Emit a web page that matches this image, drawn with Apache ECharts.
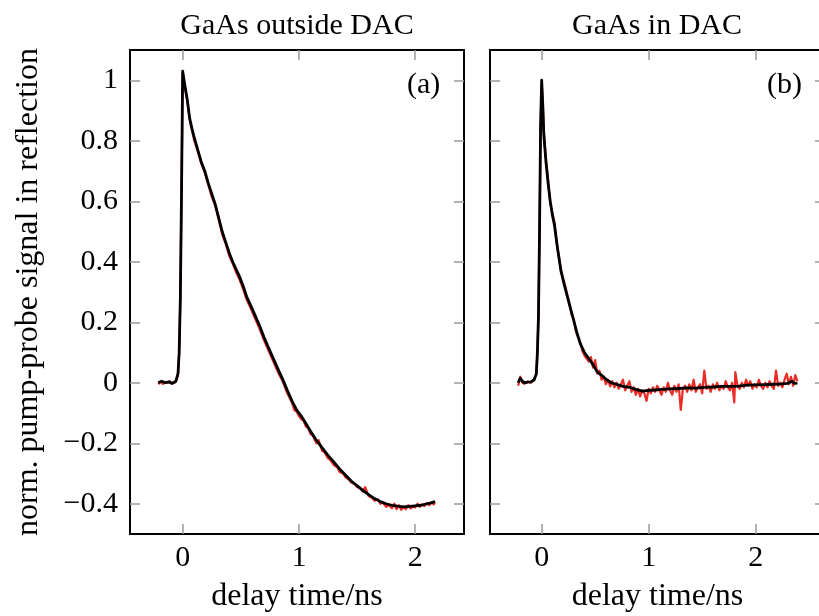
<!DOCTYPE html>
<html>
<head>
<meta charset="utf-8">
<script src="https://cdn.jsdelivr.net/npm/echarts@6/dist/echarts.min.js"></script>
<style>html,body{margin:0;padding:0;background:#fff}#c{width:819px;height:616px}</style>
</head>
<body>
<div id="c"></div>
<script>
// ---- data ----
var titles = ['GaAs outside DAC', 'GaAs in DAC'];
var panelTags = ['(a)', '(b)'];
var xTicks = [0, 1, 2];
var yTicks = [-0.4, -0.2, 0, 0.2, 0.4, 0.6, 0.8, 1];
var xName = 'delay time/ns';
var yName = 'norm. pump-probe signal in reflection';

// panel (a): black (smoothed) curve
var aBlackX = [-0.21,-0.18,-0.15,-0.12,-0.09,-0.06,-0.04,-0.03,-0.02,-0.01,0.00,0.02,0.04,0.06,0.08,0.10,0.13,0.16,0.19,0.22,0.25,0.28,0.31,0.34,0.37,0.40,0.43,0.46,0.49,0.52,0.55,0.58,0.62,0.66,0.70,0.74,0.78,0.82,0.86,0.90,0.94,0.98,1.02,1.06,1.10,1.15,1.20,1.25,1.30,1.35,1.40,1.45,1.50,1.55,1.60,1.65,1.70,1.75,1.80,1.85,1.90,1.95,2.00,2.05,2.10,2.15,2.17];
var aBlackY = [0.000,0.005,0.000,0.003,-0.002,0.004,0.03,0.10,0.28,0.62,1.03,0.98,0.935,0.875,0.84,0.81,0.77,0.73,0.70,0.66,0.625,0.59,0.545,0.50,0.465,0.43,0.40,0.375,0.35,0.32,0.285,0.26,0.225,0.19,0.15,0.115,0.08,0.045,0.012,-0.025,-0.06,-0.09,-0.11,-0.135,-0.16,-0.19,-0.215,-0.24,-0.262,-0.285,-0.305,-0.325,-0.34,-0.356,-0.37,-0.383,-0.393,-0.40,-0.405,-0.408,-0.41,-0.409,-0.407,-0.405,-0.40,-0.396,-0.392];
// panel (a): red (raw) curve
var aRedX = [-0.21,-0.19,-0.17,-0.15,-0.13,-0.11,-0.09,-0.07,-0.05,-0.04,-0.03,-0.02,-0.01,0.00,0.02,0.04,0.06,0.08,0.10,0.13,0.16,0.19,0.22,0.25,0.28,0.31,0.34,0.37,0.40,0.43,0.46,0.49,0.52,0.55,0.58,0.62,0.66,0.70,0.74,0.78,0.82,0.86,0.90,0.94,0.96,0.98,1.00,1.02,1.04,1.06,1.08,1.10,1.12,1.15,1.17,1.20,1.22,1.25,1.27,1.30,1.33,1.35,1.38,1.40,1.43,1.45,1.48,1.50,1.53,1.55,1.57,1.60,1.63,1.65,1.68,1.70,1.72,1.75,1.77,1.80,1.82,1.84,1.86,1.88,1.90,1.92,1.94,1.96,1.98,2.00,2.02,2.04,2.06,2.08,2.10,2.12,2.14,2.16,2.17];
var aRedY = [-0.005,0.004,-0.004,0.003,0.0,0.005,-0.003,0.0,0.01,0.03,0.10,0.28,0.62,1.02,0.975,0.93,0.87,0.835,0.80,0.765,0.725,0.695,0.655,0.615,0.585,0.54,0.49,0.46,0.42,0.395,0.365,0.34,0.31,0.275,0.25,0.215,0.18,0.14,0.105,0.07,0.035,0.005,-0.035,-0.065,-0.09,-0.095,-0.11,-0.12,-0.125,-0.145,-0.15,-0.17,-0.175,-0.2,-0.19,-0.225,-0.23,-0.25,-0.255,-0.272,-0.28,-0.295,-0.3,-0.312,-0.32,-0.33,-0.335,-0.345,-0.35,-0.36,-0.345,-0.375,-0.38,-0.39,-0.385,-0.4,-0.395,-0.41,-0.405,-0.415,-0.4,-0.418,-0.405,-0.42,-0.41,-0.418,-0.405,-0.415,-0.41,-0.412,-0.4,-0.41,-0.402,-0.408,-0.398,-0.405,-0.395,-0.402,-0.395];

// panel (b): black (smoothed) curve
var bBlackX = [-0.22,-0.20,-0.18,-0.16,-0.13,-0.10,-0.07,-0.05,-0.04,-0.03,-0.02,-0.01,0.00,0.01,0.02,0.04,0.06,0.08,0.10,0.12,0.15,0.18,0.21,0.24,0.27,0.30,0.33,0.36,0.40,0.44,0.48,0.52,0.56,0.60,0.65,0.70,0.76,0.82,0.88,0.94,1.00,1.06,1.12,1.20,1.28,1.36,1.44,1.52,1.60,1.68,1.76,1.84,1.92,2.00,2.08,2.16,2.24,2.30,2.34,2.36,2.39];
var bBlackY = [0.00,0.015,0.005,0.000,0.002,0.003,0.01,0.03,0.10,0.22,0.50,0.85,1.00,0.92,0.82,0.73,0.66,0.60,0.555,0.52,0.44,0.37,0.325,0.285,0.245,0.205,0.165,0.13,0.10,0.08,0.06,0.035,0.025,0.012,0.00,-0.005,-0.012,-0.015,-0.022,-0.028,-0.025,-0.024,-0.022,-0.02,-0.019,-0.017,-0.018,-0.015,-0.014,-0.012,-0.012,-0.011,-0.008,-0.007,-0.006,-0.005,-0.004,-0.002,0.005,-0.002,-0.001];
// panel (b): red (raw) curve
var bRedX = [-0.22,-0.20,-0.18,-0.16,-0.13,-0.10,-0.07,-0.05,-0.04,-0.03,-0.02,-0.01,0.00,0.01,0.02,0.04,0.06,0.08,0.10,0.12,0.14,0.16,0.18,0.20,0.22,0.24,0.26,0.28,0.30,0.32,0.34,0.36,0.38,0.40,0.42,0.44,0.46,0.48,0.50,0.52,0.54,0.56,0.58,0.60,0.62,0.64,0.66,0.68,0.70,0.72,0.74,0.76,0.78,0.80,0.82,0.84,0.86,0.88,0.90,0.92,0.94,0.96,0.98,1.00,1.02,1.04,1.06,1.08,1.10,1.12,1.14,1.16,1.18,1.20,1.22,1.24,1.26,1.28,1.30,1.32,1.34,1.36,1.38,1.40,1.42,1.44,1.46,1.48,1.50,1.52,1.54,1.56,1.58,1.60,1.62,1.64,1.66,1.68,1.70,1.72,1.74,1.76,1.78,1.80,1.81,1.83,1.85,1.87,1.89,1.91,1.93,1.95,1.97,1.99,2.01,2.03,2.05,2.07,2.09,2.11,2.13,2.15,2.17,2.19,2.21,2.23,2.25,2.27,2.29,2.31,2.33,2.35,2.37,2.39];
var bRedY = [-0.01,0.02,0.00,-0.003,0.004,0.0,0.012,0.03,0.10,0.22,0.50,0.85,0.99,0.93,0.83,0.74,0.67,0.595,0.56,0.53,0.46,0.42,0.375,0.345,0.32,0.29,0.26,0.225,0.21,0.17,0.15,0.135,0.105,0.09,0.08,0.07,0.085,0.05,0.075,0.03,0.04,0.01,0.02,-0.005,0.01,-0.012,0.005,-0.015,0.0,-0.02,-0.005,0.01,-0.025,-0.01,0.005,-0.03,-0.015,-0.04,-0.02,-0.045,-0.025,-0.035,-0.06,-0.02,-0.035,-0.015,-0.03,-0.01,-0.025,-0.04,-0.015,-0.03,0.0,-0.025,-0.04,-0.01,-0.03,-0.005,-0.09,-0.02,-0.01,-0.03,-0.005,-0.025,0.01,-0.03,-0.015,-0.005,-0.035,0.04,-0.02,-0.01,-0.03,-0.005,-0.02,0.0,-0.025,-0.01,-0.02,0.005,-0.015,-0.025,0.0,-0.065,0.035,-0.01,-0.02,0.0,-0.015,0.01,-0.01,0.005,-0.02,-0.005,-0.015,0.01,-0.01,-0.02,0.0,-0.015,0.005,-0.01,-0.02,0.04,-0.01,0.0,-0.015,0.01,0.03,-0.005,0.02,-0.01,0.025,0.005];

function zip(xs, ys) { return xs.map(function (x, i) { return [x, ys[i]]; }); }

var FONT = 'Liberation Serif';
var FS = 30;
var NFS = 32;
var TXT = '#000';
var RED = '#ec2b25';
var TICKC = '#9a9a9a';

var grids = [
  { left: 130, top: 50, width: 334, height: 484, outerBoundsMode: 'none', containLabel: false },
  { left: 490, top: 50, width: 335, height: 484, outerBoundsMode: 'none', containLabel: false }
];
var xRanges = [[-0.453, 2.42], [-0.483, 2.648]];

function minusFmt(v) { return String(v).replace('-', '\u2212'); }

var xAxes = [], yAxes = [];
for (var g = 0; g < 2; g++) {
  xAxes.push({
    type: 'value', gridIndex: g, position: 'bottom', min: xRanges[g][0], max: xRanges[g][1],
    splitLine: { show: false },
    axisLine: { show: true, onZero: false, lineStyle: { color: '#000', width: 2 } },
    axisTick: { show: true, inside: true, length: 10, customValues: xTicks, lineStyle: { color: TICKC, width: 1.5 } },
    axisLabel: { show: true, customValues: xTicks, margin: 9, fontFamily: FONT, fontSize: FS, color: TXT, formatter: minusFmt },
    name: xName, nameLocation: 'middle', nameGap: 47,
    nameTextStyle: { fontFamily: FONT, fontSize: NFS, color: TXT }
  });
  xAxes.push({
    type: 'value', gridIndex: g, position: 'top', min: xRanges[g][0], max: xRanges[g][1],
    splitLine: { show: false },
    axisLine: { show: true, onZero: false, lineStyle: { color: '#000', width: 2 } },
    axisTick: { show: true, inside: true, length: 10, customValues: xTicks, lineStyle: { color: TICKC, width: 1.5 } },
    axisLabel: { show: false }
  });
  yAxes.push({
    type: 'value', gridIndex: g, position: 'left', min: -0.5, max: 1.1,
    splitLine: { show: false },
    axisLine: { show: true, onZero: false, lineStyle: { color: '#000', width: 2 } },
    axisTick: { show: true, inside: true, length: 10, customValues: yTicks, lineStyle: { color: TICKC, width: 1.5 } },
    axisLabel: { show: g === 0, customValues: yTicks, margin: 12, fontFamily: FONT, fontSize: FS, color: TXT, formatter: minusFmt },
    name: g === 0 ? yName : '', nameLocation: 'middle', nameGap: 85, nameRotate: 90,
    nameTextStyle: { fontFamily: FONT, fontSize: NFS, color: TXT }
  });
  yAxes.push({
    type: 'value', gridIndex: g, position: 'right', min: -0.5, max: 1.1,
    splitLine: { show: false },
    axisLine: { show: true, onZero: false, lineStyle: { color: '#000', width: 2 } },
    axisTick: { show: true, inside: true, length: 10, customValues: yTicks, lineStyle: { color: TICKC, width: 1.5 } },
    axisLabel: { show: false }
  });
}

function line(data, g, color, w, z) {
  return {
    type: 'line', xAxisIndex: g * 2, yAxisIndex: g * 2, data: data, showSymbol: false, symbol: 'none',
    lineStyle: { color: color, width: w, join: 'round' }, z: z, silent: true, animation: false, clip: true
  };
}

var option = {
  backgroundColor: '#fff',
  animation: false,
  title: [
    { text: titles[0], left: 292, top: 6, textAlign: 'center', textStyle: { fontFamily: FONT, fontSize: FS, fontWeight: 'normal', color: TXT } },
    { text: titles[1], left: 652, top: 6, textAlign: 'center', textStyle: { fontFamily: FONT, fontSize: FS, fontWeight: 'normal', color: TXT } }
  ],
  grid: grids,
  xAxis: xAxes,
  yAxis: yAxes,
  graphic: [
    { type: 'text', left: 407, top: 70, style: { text: panelTags[0], font: FS + 'px "' + FONT + '"', fill: TXT } },
    { type: 'text', left: 767, top: 70, style: { text: panelTags[1], font: FS + 'px "' + FONT + '"', fill: TXT } }
  ],
  series: [
    line(zip(aRedX, aRedY), 0, RED, 2.2, 2),
    line(zip(aBlackX, aBlackY), 0, '#000', 2.8, 3),
    line(zip(bRedX, bRedY), 1, RED, 2.2, 2),
    line(zip(bBlackX, bBlackY), 1, '#000', 2.8, 3)
  ]
};

var chart = echarts.init(document.getElementById('c'), null, { renderer: 'canvas' });
chart.setOption(option);
</script>
</body>
</html>
